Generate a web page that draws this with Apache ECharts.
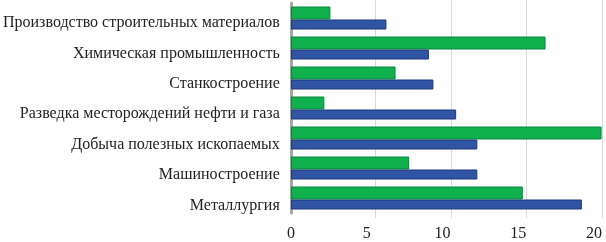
<!DOCTYPE html>
<html><head><meta charset="utf-8">
<script src="https://cdn.jsdelivr.net/npm/echarts@6/dist/echarts.min.js"></script>
<style>html,body{margin:0;padding:0;background:#fff}#c{width:606px;height:242px}</style>
</head><body><div id="c"></div>
<script>
var categories = ['Металлургия','Машиностроение','Добыча полезных ископаемых','Разведка месторождений нефти и газа','Станкостроение','Химическая промышленность','Производство строительных материалов'];
var blueValues = [19.2, 12.3, 12.3, 10.9, 9.4, 9.1, 6.3];
var greenValues = [15.3, 7.8, 20.5, 2.2, 6.9, 16.8, 2.6];
var xTicks = [0, 5, 10, 15, 20];

var font = '"Liberation Serif", "DejaVu Serif", serif';
var chart = echarts.init(document.getElementById('c'));
chart.setOption({
  animation: false,
  grid: [
    {left: 291, width: 303, top: 3, bottom: 28},
    {left: 375.5, width: 226.5, top: 0, bottom: 24},
    {left: 291, width: 303, top: 8, bottom: 21.5}
  ],
  xAxis: [
    {gridIndex: 0, type: 'value', min: xTicks[0], max: xTicks[xTicks.length-1], interval: 5,
     axisLine: {show: false}, axisTick: {show: false}, splitLine: {show: false},
     axisLabel: {color: '#222', fontFamily: font, fontSize: 16, margin: 13}},
    {gridIndex: 1, type: 'value', min: xTicks[1], max: xTicks[xTicks.length-1], interval: 5,
     axisLine: {show: false}, axisTick: {show: false}, axisLabel: {show: false},
     splitLine: {show: true, lineStyle: {color: '#d9d9d9', width: 1}}},
    {gridIndex: 2, type: 'value', min: 0, max: 20, show: false}
  ],
  yAxis: [
    {gridIndex: 0, type: 'category', data: categories,
     axisLine: {show: true, lineStyle: {color: '#a6a6a6', width: 3}},
     axisTick: {show: false}, axisLabel: {show: false}},
    {gridIndex: 1, type: 'category', data: categories, show: false},
    {gridIndex: 2, type: 'category', data: categories,
     axisLine: {show: false}, axisTick: {show: false},
     axisLabel: {color: '#222', fontFamily: font, fontSize: 16, margin: 15}}
  ],
  series: [
    {type: 'bar', xAxisIndex: 0, yAxisIndex: 0, data: greenValues, barWidth: 13, barGap: '0%', clip: false,
     itemStyle: {color: '#0fb04e', borderColor: '#08863a', borderWidth: 1}, z: 3},
    {type: 'bar', xAxisIndex: 0, yAxisIndex: 0, data: blueValues, barWidth: 10, barGap: '0%', clip: false,
     itemStyle: {color: '#2f55a4', borderColor: '#1f3b7a', borderWidth: 1}, z: 3}
  ]
});
</script></body></html>
